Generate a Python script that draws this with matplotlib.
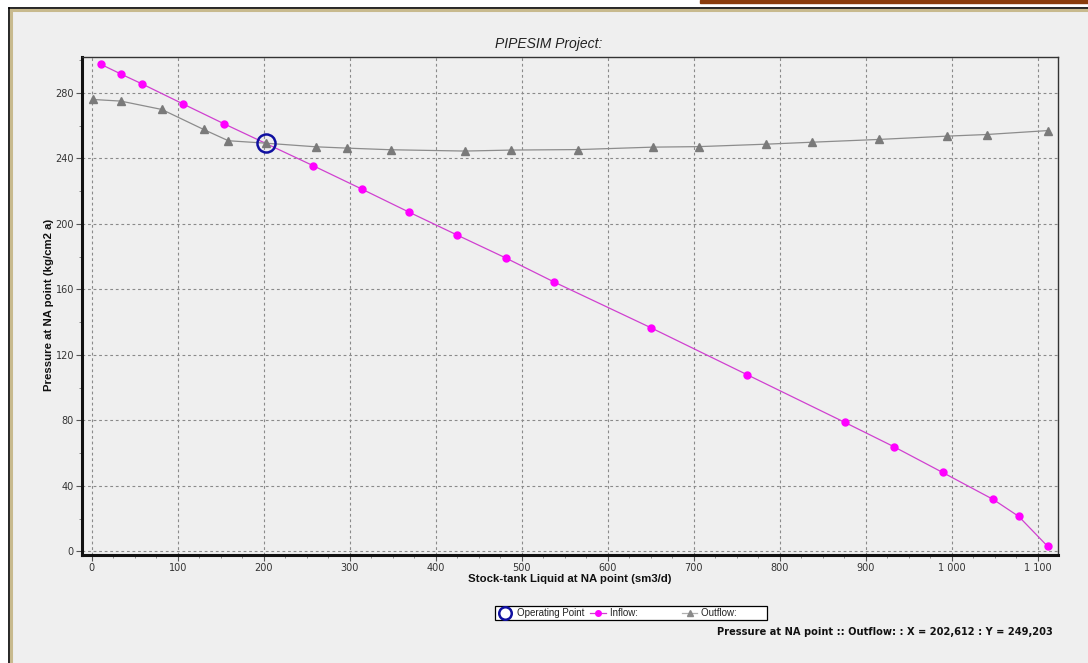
import matplotlib.pyplot as plt
from matplotlib.patches import Rectangle
from matplotlib.lines import Line2D
from matplotlib.ticker import MultipleLocator, FuncFormatter

# Inflow curve (IPR)
inflow_q = [10.8, 34, 58.8, 106, 154, 257.7, 314, 369, 425, 481.6, 537.5,
            650, 762, 875.6, 932.9, 989.5, 1048.4, 1077.9, 1111.6]
inflow_p = [297.3, 291.4, 285.3, 273.2, 261.0, 235.4, 221.2, 207.1, 193.1, 179.1, 164.5,
            136.6, 107.9, 78.8, 63.9, 48.2, 31.7, 21.4, 3.1]

# Outflow curve (VLP)
outflow_q = [1.2, 33.7, 81.4, 130, 158.8, 202.6, 260.5, 296.5, 347.7, 434, 487.6,
             565.5, 653, 705.6, 784.5, 837.6, 915.8, 994.2, 1040.7, 1112]
outflow_p = [275.9, 274.9, 269.8, 257.6, 250.7, 249.2, 247.0, 246.2, 245.2, 244.4, 245.0,
             245.3, 246.8, 247.1, 248.6, 249.8, 251.5, 253.5, 254.5, 256.9]

op_q = [202.612]
op_p = [249.203]

W, H = 1088, 663
bg = '#efefef'

fig = plt.figure(figsize=(W / 100, H / 100), dpi=100)
fig.patch.set_facecolor(bg)


def fx(x):
    return x / W


def fy(y):
    return 1 - y / H


# window frame
fig.add_artist(Rectangle((0, 0), fx(9), 1, transform=fig.transFigure, color='white', zorder=0))
fig.add_artist(Rectangle((0, fy(8)), 1, 1 - fy(8), transform=fig.transFigure, color='white', zorder=0))
fig.add_artist(Rectangle((fx(700), fy(2.5)), fx(W - 700), 1 - fy(2.5),
                         transform=fig.transFigure, color='#8a3c0c', zorder=1))
fig.add_artist(Line2D([fx(9), fx(9)], [0, fy(8)], transform=fig.transFigure, color='black', lw=1.2))
fig.add_artist(Line2D([fx(9), 1], [fy(8), fy(8)], transform=fig.transFigure, color='black', lw=1.2))
fig.add_artist(Line2D([fx(11), fx(11)], [0, fy(10)], transform=fig.transFigure, color='#c8ba8e', lw=2.2))
fig.add_artist(Line2D([fx(11), 1], [fy(10), fy(10)], transform=fig.transFigure, color='#c8ba8e', lw=2.2))

ax = fig.add_axes([fx(82.3), fy(554.7), fx(1058.3 - 82.3), (554.7 - 56.7) / H])
ax.set_facecolor(bg)

ax.plot(inflow_q, inflow_p, color='#d040d0', lw=0.9, marker='o', ms=5,
        mfc='#ff00ff', mec='#ff00ff', zorder=3)
ax.plot(outflow_q, outflow_p, color='#8c8c8c', lw=0.9, marker='^', ms=6,
        mfc='#7a7a7a', mec='#7a7a7a', zorder=4)
ax.plot(op_q, op_p, ls='none', marker='o', ms=13, mfc='none', mec='#1010a0', mew=1.8, zorder=5)

ax.set_xlim(-11, 1124)
ax.set_ylim(-2, 302)

ax.xaxis.set_major_locator(MultipleLocator(100))
ax.xaxis.set_minor_locator(MultipleLocator(25))
ax.yaxis.set_major_locator(MultipleLocator(40))
ax.yaxis.set_minor_locator(MultipleLocator(20))
ax.xaxis.set_major_formatter(FuncFormatter(lambda v, p: f'{int(v):,}'.replace(',', ' ')))

ax.tick_params(which='major', length=4, width=0.8, color='#555555', labelsize=7, labelcolor='#333333', pad=2)
ax.tick_params(which='minor', length=2, width=0.6, color='#777777')

ax.grid(True, which='major', color='#8a8a8a', ls=(0, (2.5, 2.5)), lw=0.8)

for side in ['left', 'bottom']:
    ax.spines[side].set_linewidth(2.2)
    ax.spines[side].set_color('#111111')
for side in ['top', 'right']:
    ax.spines[side].set_linewidth(1)
    ax.spines[side].set_color('#333333')

sans = ['Liberation Sans', 'DejaVu Sans']
fig.text(fx(549), fy(44), 'PIPESIM Project:', ha='center', va='center',
         fontsize=10, style='italic', family=sans, color='#222222')
fig.text(fx(570), fy(579), 'Stock-tank Liquid at NA point (sm3/d)', ha='center', va='center',
         fontsize=8.2, weight='bold', family=sans, color='#111111')
fig.text(fx(49), fy(305), 'Pressure at NA point (kg/cm2 a)', ha='center', va='center', rotation=90,
         fontsize=8.2, weight='bold', family=sans, color='#111111')
fig.text(fx(1053), fy(632), 'Pressure at NA point :: Outflow: : X = 202,612 : Y = 249,203',
         ha='right', va='center', fontsize=7.1, weight='bold', color='#111111')

handles = [
    Line2D([], [], ls='none', marker='o', ms=9, mfc='none', mec='#1010a0', mew=1.8),
    Line2D([], [], color='#d040d0', lw=0.9, marker='o', ms=4, mfc='#ff00ff', mec='#ff00ff'),
    Line2D([], [], color='#b0b0b0', lw=0.9, marker='^', ms=4, mfc='#8a8a8a', mec='#8a8a8a'),
]
labels = ['Operating Point', 'Inflow:' + ' ' * 14, 'Outflow:' + ' ' * 10]
leg = fig.legend(handles, labels, ncol=3, loc='center left',
                 bbox_to_anchor=(fx(495), fy(613)), fontsize=7, frameon=True, fancybox=False,
                 edgecolor='black', facecolor='white', framealpha=1, borderpad=0.25,
                 handlelength=1.6, handletextpad=0.4, columnspacing=0.6, borderaxespad=0,
                 prop={'family': sans, 'size': 7})
leg.get_frame().set_linewidth(0.9)
for t in leg.get_texts():
    t.set_color('#222222')

fig.savefig('out.png', dpi=100, facecolor=bg)
